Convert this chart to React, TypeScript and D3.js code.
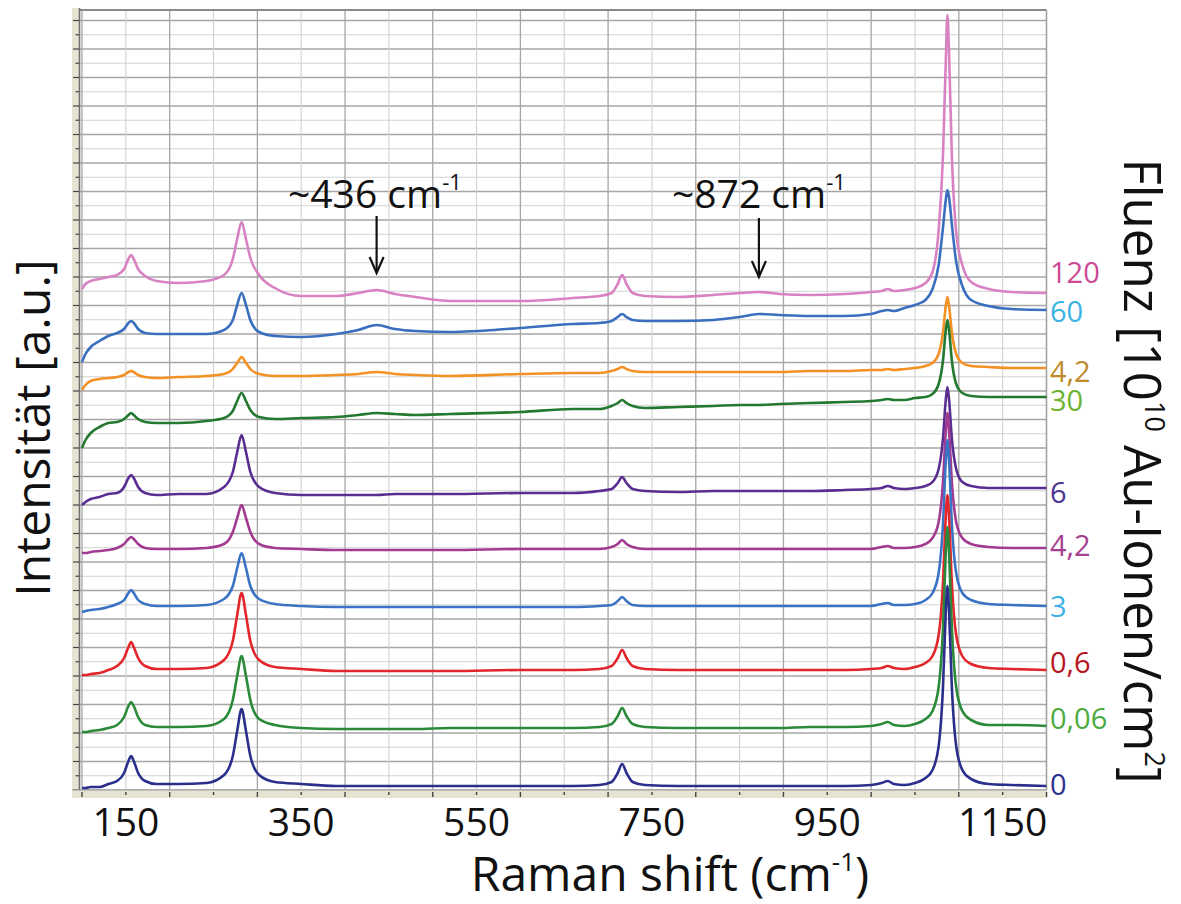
import React from 'react';
import * as d3 from 'd3';

// Raman shift sample positions (cm-1)
const RAMAN = [100,104,110,120,130,140,148,153,156,159,164,172,185,210,242,262,272,277,282,287,292,302,320,350,390,415,436,457,480,520,600,660,690,704,711,716,721,728,742,780,820,850,872,895,930,970,1000,1012,1019,1026,1038,1050,1062,1070,1077,1082,1085,1087,1089,1092,1097,1104,1114,1134,1160,1200];

// Intensities (a.u., stacked/offset spectra) per fluence
const I_0 = [2,2,3,3,6,9,17,29,34,29,17,9,6,6,7,15,34,59,81,59,34,15,8,6,4,4,4,4,4,4,4,4,5,8,17,26,17,8,5,4,4,4,4,4,4,4,5,7,9,6,5,7,12,20,44,104,176,204,176,104,44,20,11,6,5,4];
const I_006 = [58,58,59,60,62,65,73,84,88,84,73,65,63,63,64,71,90,114,134,114,90,71,65,62,61,61,61,61,61,62,62,62,63,66,74,82,74,66,63,62,62,62,62,62,63,63,64,66,68,65,64,66,71,79,103,163,235,263,235,163,103,79,70,65,65,64];
const I_06 = [115,115,116,117,120,124,132,143,148,143,132,124,121,121,122,130,149,175,197,175,149,130,123,121,119,119,119,119,119,119,120,120,121,124,132,140,132,124,121,120,120,120,120,120,120,120,121,122,124,122,121,123,127,134,155,208,271,295,271,208,155,134,126,122,121,120];
const I_3 = [178,179,180,181,183,186,190,197,200,197,190,186,184,184,185,191,204,222,237,222,204,191,186,184,183,183,183,183,183,183,183,183,184,185,189,193,189,185,184,184,184,184,184,184,184,184,184,186,187,185,185,186,190,197,217,267,327,350,327,267,217,197,190,186,185,184];
const I_42b = [237,237,238,239,240,242,246,251,253,251,246,242,241,241,242,246,258,272,285,272,258,246,242,241,240,240,240,240,240,240,241,241,241,243,246,250,246,243,241,241,241,241,241,241,241,241,241,243,244,242,242,243,246,252,268,309,357,377,357,309,268,252,246,243,242,242];
const I_6 = [285,288,291,293,296,297,303,312,315,312,303,297,295,296,296,303,318,338,355,338,318,303,297,295,295,295,295,296,296,296,297,297,299,301,307,313,307,301,299,298,299,299,299,299,299,300,301,302,304,302,301,302,304,308,321,352,389,403,389,352,321,308,304,302,302,302];
const I_30 = [342,350,357,363,367,368,371,375,377,375,371,368,367,367,369,372,379,389,397,389,380,373,371,372,373,375,377,376,375,376,378,381,381,384,387,390,387,384,382,383,384,385,385,386,387,388,389,390,391,390,390,392,393,396,406,430,459,470,459,430,406,397,394,393,393,393];
const I_42a = [400,405,409,411,412,413,415,418,419,418,415,413,412,413,414,416,421,427,433,427,421,416,414,414,415,416,418,416,415,414,416,417,417,419,421,423,421,419,418,418,418,418,418,418,419,419,420,420,421,420,421,422,424,427,436,458,483,493,483,458,436,427,424,423,422,422];
const I_60 = [428,436,443,449,454,457,461,467,469,467,461,457,456,456,456,460,470,485,497,485,470,458,454,453,456,460,465,461,459,458,462,466,467,469,473,476,473,470,469,469,470,473,476,475,474,474,476,479,480,479,482,485,490,501,525,563,589,600,592,566,528,504,490,484,481,480];
const I_120 = [501,506,509,511,513,515,521,531,535,531,521,514,509,507,509,515,531,551,568,551,532,515,502,494,494,497,500,496,493,489,489,492,494,497,506,515,506,497,494,493,495,497,498,496,495,496,498,499,501,499,500,502,507,518,560,636,725,775,733,636,558,525,508,501,498,497];

const FLUENCE_LABELS = ['120', '60', '4,2', '30', '6', '4,2', '3', '0,6', '0,06', '0'];
const SERIES_VALUES = [I_120, I_60, I_42a, I_30, I_6, I_42b, I_3, I_06, I_006, I_0];

const X_TICK_LABELS = [150, 350, 550, 750, 950, 1150];

// styles (kept separate from data)
const LINE_COLORS = ['#d882c3', '#3a6fc0', '#f39124', '#23792f', '#5a2d91', '#a23a92', '#3b73c4', '#e2262b', '#2b8a3a', '#2b2f8c'];
const LABEL_COLORS = ['#cc4a95', '#3cb3e4', '#bf8a2c', '#6cb42e', '#4e3592', '#a63f92', '#3ab2e4', '#b8151e', '#4dab3f', '#2e3192'];
const LABEL_DY = [-21, 1, 3, 3, 4, -3, 0, -8, -8, -2];

const W = 1181;
const H = 904;
const X0 = 82, X1 = 1046.5, Y0 = 790, Y1 = 10;
const FONT = "'Open Sans', 'Noto Sans', sans-serif";
const GRID_STEP = 14.25;

export default function App() {
  const x = d3.scaleLinear().domain([100, 1200]).range([X0, X1]);
  const y = d3.scaleLinear().domain([0, 780]).range([Y0, Y1]);
  const line = d3.line<number>()
    .x((_, i) => x(RAMAN[i]))
    .y((d) => y(d))
    .curve(d3.curveMonotoneX);

  const yGrid = d3.range(0, 780, GRID_STEP);
  const xGrid = d3.range(100, 1201, 50);

  return (
    <svg width={W} height={H} style={{ position: 'absolute', left: 0, top: 0, background: '#fff' }} fontFamily={FONT}>
      <rect x={0} y={0} width={W} height={H} fill="#fff" />
      {/* grid */}
      {yGrid.map((v, i) => (
        <line key={'gy' + i} x1={X0 - 2} x2={X1} y1={y(v)} y2={y(v)}
          stroke={i % 2 === 0 ? '#a6a6a6' : '#d2d2d2'} strokeWidth={i % 2 === 0 ? 1.3 : 1.1} />
      ))}
      {xGrid.map((v, i) => (
        <line key={'gx' + i} x1={x(v)} x2={x(v)} y1={Y1} y2={Y0}
          stroke={v % 100 === 0 ? '#a6a6a6' : '#d2d2d2'} strokeWidth={v % 100 === 0 ? 1.3 : 1.1} />
      ))}
      {/* frame */}
      <line x1={X0 - 2} x2={X1} y1={Y1} y2={Y1} stroke="#8a8a8a" strokeWidth={2} />
      <line x1={X1} x2={X1} y1={Y1} y2={Y0} stroke="#a0a0a0" strokeWidth={1.3} />
      {/* left axis strip */}
      <rect x={72} y={Y1 - 2} width={8} height={Y0 - Y1 + 10} fill="#e7e3d3" />
      <line x1={79.5} x2={79.5} y1={Y1 - 2} y2={Y0 + 8} stroke="#6d6d6d" strokeWidth={1.6} />
      {yGrid.map((v, i) => (
        <line key={'ty' + i} x1={i % 2 === 0 ? 73 : 75.5} x2={79} y1={y(v)} y2={y(v)} stroke="#444" strokeWidth={1.2} />
      ))}
      {/* bottom axis strip */}
      <rect x={72} y={Y0} width={X1 - 72 + 1} height={8} fill="#e7e3d3" />
      <line x1={72} x2={X1} y1={Y0} y2={Y0} stroke="#9a9a9a" strokeWidth={1.2} />
      {xGrid.map((v, i) => (
        <line key={'tx' + i} x1={x(v)} x2={x(v)} y1={Y0 + 2} y2={v % 100 === 0 ? Y0 + 7 : Y0 + 5}
          stroke="#444" strokeWidth={1.4} />
      ))}
      {/* spectra */}
      {SERIES_VALUES.map((vals, i) => (
        <path key={'s' + i} d={line(vals) || ''} fill="none" stroke={LINE_COLORS[i]} strokeWidth={2.6} strokeLinejoin="round" />
      ))}
      {/* x tick labels */}
      {X_TICK_LABELS.map((v) => (
        <text key={'xl' + v} x={x(v)} y={836} textAnchor="middle" fontSize={39} fill="#111">{v}</text>
      ))}
      {/* x title */}
      <text x={670} y={891} textAnchor="middle" fontSize={48} fill="#111">
        Raman shift (cm<tspan dy={-20} fontSize={26}>-1</tspan><tspan dy={20}>)</tspan>
      </text>
      {/* y title */}
      <text transform="translate(50,428) rotate(-90)" textAnchor="middle" fontSize={48} fill="#111">Intensität [a.u.]</text>
      {/* right title */}
      <text transform="translate(1124,471) rotate(90)" textAnchor="middle" fontSize={51} fill="#111">
        Fluenz [10<tspan dy={-21} fontSize={27}>10</tspan><tspan dy={21}> Au-Ionen/cm</tspan><tspan dy={-21} fontSize={27}>2</tspan><tspan dy={21}>]</tspan>
      </text>
      {/* fluence labels */}
      {SERIES_VALUES.map((vals, i) => (
        <text key={'fl' + i} x={1050} y={y(vals[vals.length - 1]) + 11 + LABEL_DY[i]} fontSize={29} fill={LABEL_COLORS[i]}>
          {FLUENCE_LABELS[i]}
        </text>
      ))}
      {/* annotations */}
      <text x={288} y={208} fontSize={39} fill="#111">~436 cm<tspan dy={-18} fontSize={22}>-1</tspan></text>
      <line x1={x(436)} x2={x(436)} y1={216} y2={272} stroke="#111" strokeWidth={2.2} />
      <polyline points={`${x(436) - 7},${257} ${x(436)},${273} ${x(436) + 7},${257}`} fill="none" stroke="#111" strokeWidth={2.2} />
      <text x={672} y={208} fontSize={39} fill="#111">~872 cm<tspan dy={-18} fontSize={22}>-1</tspan></text>
      <line x1={x(872)} x2={x(872)} y1={218} y2={276} stroke="#111" strokeWidth={2.2} />
      <polyline points={`${x(872) - 7},${261} ${x(872)},${277} ${x(872) + 7},${261}`} fill="none" stroke="#111" strokeWidth={2.2} />
    </svg>
  );
}
